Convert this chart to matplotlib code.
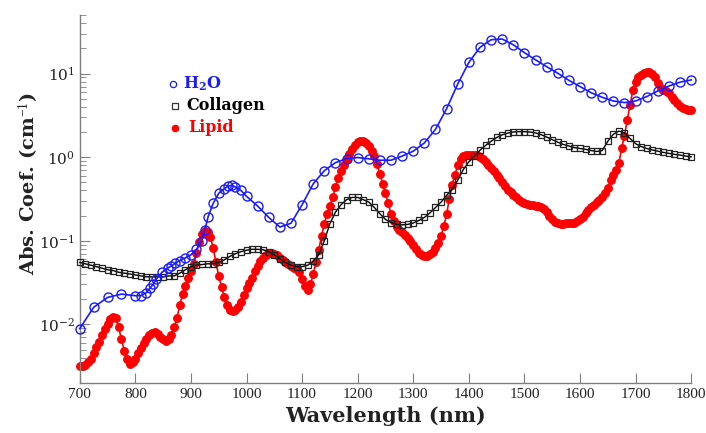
import matplotlib
matplotlib.use('Agg')
import matplotlib.pyplot as plt
from matplotlib.ticker import LogLocator, FixedLocator

plt.rcParams['font.family'] = ['DejaVu Serif']
plt.rcParams['mathtext.fontset'] = 'custom'
plt.rcParams['mathtext.rm'] = 'Liberation Serif'
plt.rcParams['mathtext.it'] = 'Liberation Serif:italic'
plt.rcParams['mathtext.bf'] = 'DejaVu Serif:bold'

# water absorption (cm^-1)
water_nm = [700, 725, 750, 775, 800, 810, 820, 826, 832, 838, 848, 858, 865, 872, 880, 889,
            900, 910, 919, 925, 931, 940, 950, 960, 967, 973, 980, 990, 1000, 1020, 1040,
            1060, 1080, 1100, 1120, 1140, 1160, 1180, 1200, 1220, 1240, 1260, 1280, 1300,
            1320, 1340, 1360, 1380, 1400, 1420, 1440, 1460, 1480, 1500, 1520, 1540, 1560,
            1580, 1600, 1620, 1640, 1660, 1680, 1700, 1720, 1740, 1760, 1780, 1800]
water_abs = [0.0089, 0.016, 0.021, 0.023, 0.022, 0.022, 0.024, 0.027, 0.030, 0.035, 0.042,
             0.047, 0.050, 0.054, 0.058, 0.062, 0.068, 0.079, 0.10, 0.135, 0.195, 0.28, 0.37,
             0.42, 0.45, 0.46, 0.44, 0.40, 0.34, 0.26, 0.19, 0.146, 0.162, 0.27, 0.48, 0.69,
             0.86, 0.96, 0.99, 0.955, 0.92, 0.92, 1.03, 1.18, 1.48, 2.15, 3.8, 7.5, 13.6,
             20.6, 25.4, 25.9, 22.1, 17.8, 14.6, 12.1, 10.1, 8.3, 7.0, 5.9, 5.2, 4.7, 4.5,
             4.7, 5.3, 6.2, 7.1, 7.9, 8.4]

# collagen, every 10 nm from 700 to 1800
collagen_nm = list(range(700, 1801, 10))
collagen_abs = [0.055, 0.053, 0.051, 0.049, 0.047, 0.045, 0.044, 0.042, 0.041, 0.040,
                0.039, 0.038, 0.037, 0.037, 0.037, 0.037, 0.038, 0.038, 0.041, 0.045,
                0.049, 0.051, 0.052, 0.053, 0.053, 0.055, 0.059, 0.065, 0.070, 0.074,
                0.077, 0.079, 0.079, 0.078, 0.074, 0.068, 0.061, 0.055, 0.051, 0.049,
                0.049, 0.051, 0.057, 0.068, 0.10, 0.16, 0.22, 0.27, 0.31, 0.33,
                0.33, 0.31, 0.29, 0.25, 0.21, 0.18, 0.165, 0.157, 0.155, 0.157,
                0.163, 0.175, 0.19, 0.215, 0.25, 0.29, 0.35, 0.41, 0.53, 0.71,
                0.88, 1.03, 1.21, 1.38, 1.55, 1.72, 1.85, 1.94, 2.0, 2.02,
                2.02, 2.0, 1.95, 1.86, 1.74, 1.62, 1.51, 1.42, 1.36, 1.30,
                1.27, 1.24, 1.20, 1.17, 1.20, 1.55, 1.88, 2.05, 1.95, 1.68,
                1.45, 1.34, 1.27, 1.22, 1.18, 1.14, 1.11, 1.08, 1.06, 1.03, 1.01]

# lipid, every 5 nm from 700 to 1800
lipid_nm = list(range(700, 1801, 5))
lipid_abs = [0.0032, 0.0032, 0.0033, 0.0035, 0.0039, 0.0045, 0.0053, 0.0062, 0.0075, 0.0088,
             0.0102, 0.0115, 0.0123, 0.0118, 0.0092, 0.0066, 0.0048, 0.0038, 0.0034, 0.0035,
             0.0039, 0.0045, 0.0052, 0.0060, 0.0067, 0.0074, 0.0079, 0.0080, 0.0077, 0.0071,
             0.0066, 0.0064, 0.0066, 0.0074, 0.0092, 0.0120, 0.0170, 0.0230, 0.0290, 0.0360,
             0.0440, 0.0520, 0.0720, 0.0960, 0.1200, 0.1300, 0.1270, 0.1100, 0.0820, 0.0550,
             0.0380, 0.0280, 0.0210, 0.0170, 0.0150, 0.0143, 0.0148, 0.0160, 0.0185, 0.0225,
             0.0270, 0.0310, 0.0360, 0.0430, 0.0500, 0.0570, 0.0630, 0.0680, 0.0710, 0.0720,
             0.0700, 0.0670, 0.0630, 0.0590, 0.0550, 0.0520, 0.0495, 0.0475, 0.0460, 0.0420,
             0.0350, 0.0290, 0.0260, 0.0300, 0.0400, 0.0550, 0.0780, 0.1150, 0.1600, 0.2100,
             0.2600, 0.3300, 0.4400, 0.5700, 0.6800, 0.8000, 0.9500, 1.0800, 1.2500, 1.4000,
             1.5000, 1.5600, 1.5500, 1.4800, 1.3600, 1.2000, 1.0300, 0.8200, 0.6300, 0.4800,
             0.3700, 0.2800, 0.2100, 0.1700, 0.1480, 0.1350, 0.1260, 0.1180, 0.1080, 0.0980,
             0.0880, 0.0790, 0.0710, 0.0670, 0.0650, 0.0660, 0.0690, 0.0740, 0.0820, 0.0940,
             0.1150, 0.1500, 0.2100, 0.3200, 0.4700, 0.6200, 0.8000, 0.9400, 1.0200, 1.0600,
             1.0700, 1.0700, 1.0700, 1.0600, 1.0100, 0.9500, 0.8800, 0.8100, 0.7400, 0.6800,
             0.6200, 0.5600, 0.5000, 0.4500, 0.4100, 0.3800, 0.3500, 0.3300, 0.3100, 0.2900,
             0.2800, 0.2720, 0.2680, 0.2650, 0.2620, 0.2580, 0.2500, 0.2380, 0.2220, 0.2000,
             0.1800, 0.1680, 0.1620, 0.1600, 0.1600, 0.1610, 0.1620, 0.1620, 0.1640, 0.1700,
             0.1800, 0.1950, 0.2120, 0.2320, 0.2500, 0.2700, 0.2900, 0.3100, 0.3300, 0.3700,
             0.4300, 0.5300, 0.6100, 0.7000, 0.8500, 1.3000, 1.8000, 2.8000, 4.2000, 6.3000,
             8.0000, 9.0000, 9.7000, 10.300, 10.500, 10.400, 9.8000, 9.0000, 7.8000, 6.8000,
             6.4000, 6.2000, 5.8000, 5.3000, 4.8000, 4.4000, 4.1000, 3.9000, 3.8000, 3.7000,
             3.7000]

xticks = list(range(700, 1801, 100))

fig = plt.figure(figsize=(7.06, 4.33), dpi=100)
ax = fig.add_axes([0.113, 0.116, 0.866, 0.849])

ax.plot(lipid_nm, lipid_abs, '-o', color='#ff0000', ms=5.4, lw=1.2, mec='#ff0000',
        clip_on=False, zorder=2)
ax.plot(collagen_nm, collagen_abs, '-s', color='black', ms=4.2, lw=1.0, mfc='none',
        mec='#222222', mew=0.9, clip_on=False, zorder=3)
ax.plot(water_nm, water_abs, '-o', color='#1a1aff', ms=6.5, lw=1.2, mfc='none',
        mew=1.0, clip_on=False, zorder=4)

ax.set_yscale('log')
ax.set_xlim(700, 1800)
ax.set_ylim(0.002, 50)
ax.xaxis.set_major_locator(FixedLocator(xticks))
ax.yaxis.set_major_locator(LogLocator(base=10, numticks=10))
ax.yaxis.set_minor_locator(LogLocator(base=10, subs=range(2, 10), numticks=20))

for s in ['top', 'right']:
    ax.spines[s].set_visible(False)
for s in ['left', 'bottom']:
    ax.spines[s].set_color('#7f7f7f')
    ax.spines[s].set_linewidth(1.0)
ax.tick_params(which='both', direction='in', color='#7f7f7f', labelcolor='#222222',
               labelsize=11)
ax.tick_params(which='major', length=7)
ax.tick_params(which='minor', length=4)
for lab in ax.get_xticklabels():
    lab.set_fontfamily('Liberation Serif')

ax.set_xlabel('Wavelength (nm)', fontsize=15, fontweight='bold', color='#222222')
ax.set_ylabel('Abs. Coef. (cm$^{-1}$)', fontsize=14, fontweight='bold', color='#222222')
ax.yaxis.set_label_coords(-0.064, 0.54)

# legend drawn by hand so the text takes the series colour
ax.plot([0.152], [0.813], 'o', ms=4.5, mfc='none', mec='#1a1aff', mew=0.9,
        transform=ax.transAxes, clip_on=False)
ax.plot([0.155], [0.754], 's', ms=4.5, mfc='none', mec='#333333', mew=0.9,
        transform=ax.transAxes, clip_on=False)
ax.plot([0.155], [0.694], 'o', ms=4.5, color='#ff0000', transform=ax.transAxes,
        clip_on=False)
ax.text(0.169, 0.813, r'$\mathbf{H_2O}$', color='#1a1aff', fontsize=11.5, va='center',
        transform=ax.transAxes)
ax.text(0.174, 0.754, 'Collagen', color='black', fontsize=11.5, fontweight='bold',
        va='center', transform=ax.transAxes)
ax.text(0.178, 0.694, 'Lipid', color='#ff0000', fontsize=11.5, fontweight='bold',
        va='center', transform=ax.transAxes)

fig.savefig('out.png', dpi=100)
